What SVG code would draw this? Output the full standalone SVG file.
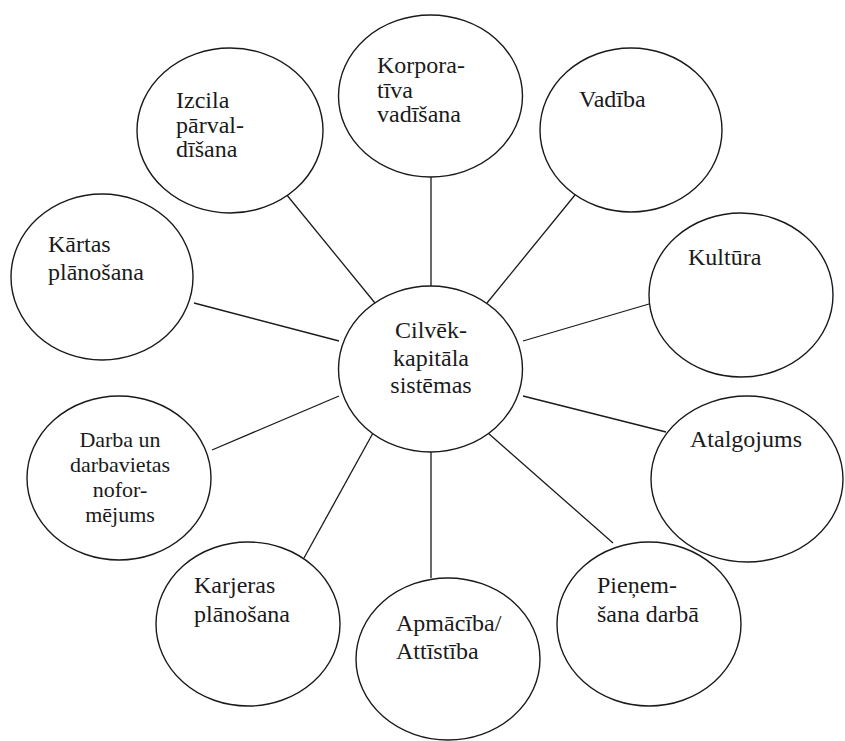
<svg xmlns="http://www.w3.org/2000/svg" width="845" height="741" viewBox="0 0 845 741">
<style>
  .n ellipse { fill: #ffffff; stroke: #1a1a1a; stroke-width: 1.4; }
  .n text { font-family: "Liberation Serif", "Times New Roman", serif; font-size: 24px; fill: #1a1a1a; }
  .n text.s { font-size: 22px; }
  #connectors line { stroke: #1a1a1a; stroke-width: 1.3; }
</style>
<rect width="845" height="741" fill="#ffffff"/>
<g id="connectors">
  <line x1="431" y1="177" x2="431" y2="286"/>
  <line x1="286" y1="194" x2="375" y2="303"/>
  <line x1="575" y1="195" x2="487" y2="303"/>
  <line x1="194" y1="303" x2="339" y2="341"/>
  <line x1="649" y1="304" x2="523" y2="341"/>
  <line x1="212" y1="450" x2="339" y2="396"/>
  <line x1="523" y1="396" x2="666" y2="432"/>
  <line x1="304" y1="558" x2="373" y2="433"/>
  <line x1="431" y1="452" x2="431" y2="578"/>
  <line x1="488" y1="433" x2="613" y2="543"/>
</g>
<g id="center" class="n">
  <ellipse cx="430.5" cy="369" rx="92" ry="83"/>
  <text x="431" y="338" text-anchor="middle" font-family="Liberation Serif">Cilvēk-</text>
  <text x="431" y="366" text-anchor="middle" font-family="Liberation Serif">kapitāla</text>
  <text x="431" y="393" text-anchor="middle" font-family="Liberation Serif">sistēmas</text>
</g>
<g id="korporativa" class="n">
  <ellipse cx="430.5" cy="96" rx="92" ry="81"/>
  <text x="377" y="73" font-family="Liberation Serif">Korpora-</text>
  <text x="377" y="97.5" font-family="Liberation Serif">tīva</text>
  <text x="377" y="122" font-family="Liberation Serif">vadīšana</text>
</g>
<g id="izcila" class="n">
  <ellipse cx="230" cy="130.5" rx="93" ry="82.5"/>
  <text x="176" y="108" font-family="Liberation Serif">Izcila</text>
  <text x="176" y="132.5" font-family="Liberation Serif">pārval-</text>
  <text x="176" y="157" font-family="Liberation Serif">dīšana</text>
</g>
<g id="vadiba" class="n">
  <ellipse cx="631" cy="130" rx="91" ry="82"/>
  <text x="579" y="107" font-family="Liberation Serif">Vadība</text>
</g>
<g id="kartas" class="n">
  <ellipse cx="102" cy="277" rx="91" ry="83"/>
  <text x="48" y="252" font-family="Liberation Serif">Kārtas</text>
  <text x="48" y="280" font-family="Liberation Serif">plānošana</text>
</g>
<g id="kultura" class="n">
  <ellipse cx="741" cy="295" rx="92" ry="82"/>
  <text x="688" y="265" font-family="Liberation Serif">Kultūra</text>
</g>
<g id="darba" class="n">
  <ellipse cx="119" cy="478" rx="92" ry="82"/>
  <text class="s" x="120" y="447" text-anchor="middle" font-family="Liberation Serif">Darba un</text>
  <text class="s" x="120" y="472" text-anchor="middle" font-family="Liberation Serif">darbavietas</text>
  <text class="s" x="120" y="497" text-anchor="middle" font-family="Liberation Serif">nofor-</text>
  <text class="s" x="120" y="522" text-anchor="middle" font-family="Liberation Serif">mējums</text>
</g>
<g id="atalgojums" class="n">
  <ellipse cx="747" cy="479" rx="96" ry="83"/>
  <text x="690" y="447" font-family="Liberation Serif">Atalgojums</text>
</g>
<g id="karjeras" class="n">
  <ellipse cx="248" cy="624" rx="92" ry="82"/>
  <text x="194" y="593" font-family="Liberation Serif">Karjeras</text>
  <text x="194" y="622" font-family="Liberation Serif">plānošana</text>
</g>
<g id="apmaciba" class="n">
  <ellipse cx="448" cy="659" rx="92" ry="81"/>
  <text x="396" y="631" font-family="Liberation Serif">Apmācība/</text>
  <text x="396" y="659" font-family="Liberation Serif">Attīstība</text>
</g>
<g id="pienemsana" class="n">
  <ellipse cx="649" cy="624" rx="92" ry="82"/>
  <text x="597" y="593" font-family="Liberation Serif">Pieņem-</text>
  <text x="597" y="622" font-family="Liberation Serif">šana darbā</text>
</g>
</svg>
